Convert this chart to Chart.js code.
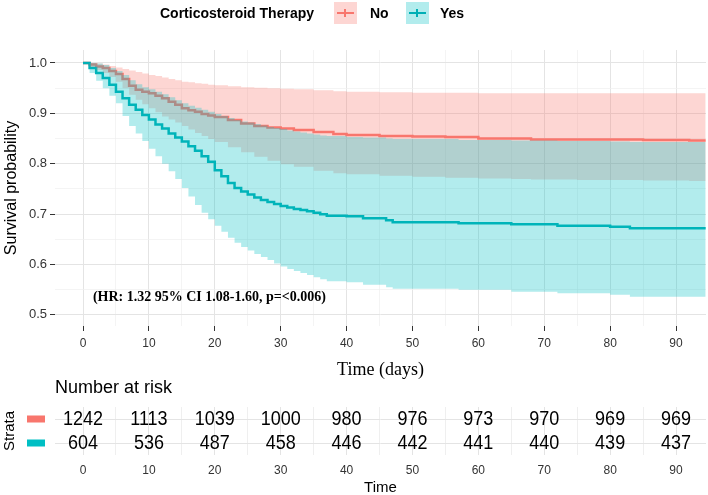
<!DOCTYPE html>
<html>
<head>
<meta charset="utf-8">
<script src="https://cdn.jsdelivr.net/npm/chart.js@4.4.1/dist/chart.umd.min.js"></script>
<style>
  html, body { margin: 0; padding: 0; background: #fff; overflow: hidden; }
  #wrap { position: relative; width: 708px; height: 495px; font-family: 'Liberation Sans', Arial, sans-serif; }
  canvas { position: absolute; left: 0; }
  #mainChart { top: 0; }
  #riskChart { top: 376px; }
  #legend { position: absolute; top: 0; left: 0; width: 708px; height: 28px; font-weight: bold; font-size: 14px; color: #000; }
  #legend span { position: absolute; top: 5px; line-height: 16px; white-space: nowrap; }
  #legend .key { position: absolute; top: 2px; width: 23px; height: 22px; }
  #legend .key i { position: absolute; left: 3px; right: 3px; top: 10px; height: 2px; }
  #legend .key b { position: absolute; left: 10px; top: 7px; width: 2px; height: 8px; }
</style>
</head>
<body>
<div id="wrap">
  <canvas id="mainChart" width="708" height="385"></canvas>
  <canvas id="riskChart" width="708" height="119"></canvas>
  <div id="legend"></div>
</div>
<script>
// ── Data ──────────────────────────────────────────────────────
const strata = ['No', 'Yes'];

// Corticosteroid therapy: No
const noTime  = [0, 1, 2, 3, 4, 5, 6, 7, 8, 9, 10, 11, 12, 13, 14, 15, 16, 17, 18, 19, 20,
                 22, 24, 26, 28, 30, 32, 35, 38, 40, 45, 50, 55, 60, 65, 68, 75, 80, 85, 92, 94.5];
const noSurv  = [1, 0.997, 0.993, 0.99, 0.984, 0.978, 0.968, 0.955, 0.947, 0.943, 0.94, 0.935, 0.93, 0.923,
                 0.917, 0.91, 0.906, 0.903, 0.899, 0.896, 0.893, 0.887, 0.88, 0.875, 0.872, 0.87, 0.867,
                 0.863, 0.859, 0.857, 0.855, 0.854, 0.853, 0.85, 0.85, 0.848, 0.848, 0.848, 0.847, 0.846, 0.846];
const noUpper = [1, 1, 0.999, 0.997, 0.994, 0.991, 0.988, 0.985, 0.982, 0.979, 0.976, 0.974, 0.971, 0.968,
                 0.966, 0.963, 0.962, 0.96, 0.959, 0.957, 0.956, 0.954, 0.952, 0.951, 0.95, 0.949, 0.948,
                 0.946, 0.944, 0.943, 0.942, 0.941, 0.941, 0.94, 0.94, 0.94, 0.94, 0.94, 0.94, 0.94, 0.94];
const noLower = [1, 0.992, 0.986, 0.98, 0.972, 0.963, 0.95, 0.937, 0.927, 0.918, 0.91, 0.902, 0.894, 0.888,
                 0.882, 0.875, 0.868, 0.861, 0.855, 0.849, 0.843, 0.833, 0.823, 0.814, 0.806, 0.799, 0.794,
                 0.786, 0.781, 0.779, 0.776, 0.774, 0.772, 0.771, 0.77, 0.769, 0.768, 0.768, 0.767, 0.766, 0.766];

// Corticosteroid therapy: Yes
const yesTime  = [0, 1, 2, 3, 4, 5, 6, 7, 8, 9, 10, 11, 12, 13, 14, 15, 16, 17, 18, 19, 20, 21, 22, 23, 24,
                  25, 26, 27, 28, 29, 30, 31, 32, 33, 34, 35, 36, 37, 40, 42.5, 46, 47, 57, 65, 72, 80, 83, 94.5];
const yesSurv  = [1, 0.99, 0.98, 0.97, 0.957, 0.943, 0.93, 0.917, 0.907, 0.897, 0.888, 0.878, 0.87, 0.86,
                  0.852, 0.844, 0.835, 0.826, 0.815, 0.804, 0.787, 0.775, 0.762, 0.752, 0.745, 0.739, 0.733,
                  0.728, 0.724, 0.72, 0.716, 0.713, 0.71, 0.708, 0.706, 0.703, 0.7, 0.697, 0.696, 0.692,
                  0.688, 0.684, 0.682, 0.68, 0.677, 0.675, 0.672, 0.672];
const yesUpper = [1, 1, 0.999, 0.996, 0.99, 0.984, 0.976, 0.966, 0.958, 0.952, 0.948, 0.943, 0.938, 0.932,
                  0.926, 0.92, 0.915, 0.911, 0.907, 0.903, 0.899, 0.895, 0.891, 0.887, 0.884, 0.882, 0.879,
                  0.876, 0.873, 0.871, 0.869, 0.866, 0.864, 0.862, 0.86, 0.858, 0.856, 0.855, 0.853, 0.852,
                  0.85, 0.849, 0.847, 0.846, 0.845, 0.844, 0.843, 0.843];
const yesLower = [1, 0.98, 0.965, 0.95, 0.935, 0.92, 0.895, 0.875, 0.86, 0.845, 0.83, 0.815, 0.8, 0.785,
                  0.77, 0.752, 0.735, 0.718, 0.703, 0.69, 0.677, 0.665, 0.653, 0.643, 0.635, 0.628, 0.621,
                  0.615, 0.609, 0.602, 0.596, 0.591, 0.587, 0.583, 0.579, 0.575, 0.571, 0.567, 0.565, 0.56,
                  0.555, 0.552, 0.55, 0.546, 0.543, 0.54, 0.536, 0.536];

// Number at risk table
const riskTimes = [0, 10, 20, 30, 40, 50, 60, 70, 80, 90];
const riskNo    = [1242, 1113, 1039, 1000, 980, 976, 973, 970, 969, 969];
const riskYes   = [604, 536, 487, 458, 446, 442, 441, 440, 439, 437];

// Axis ticks
const xGridValues = [0, 5, 10, 15, 20, 25, 30, 35, 40, 45, 50, 55, 60, 65, 70, 75, 80, 85, 90];
const xTickLabels = [0, 10, 20, 30, 40, 50, 60, 70, 80, 90];
const yGridValues = [0.5, 0.55, 0.6, 0.65, 0.7, 0.75, 0.8, 0.85, 0.9, 0.95, 1.0];
const yTickLabels = [0.5, 0.6, 0.7, 0.8, 0.9, 1.0];

const annotationText = '(HR: 1.32 95% CI 1.08-1.60, p=<0.006)';

// ── Styles ────────────────────────────────────────────────────
const X_MIN = -4.25, X_MAX = 94.55;
const Y_MIN = 0.478, Y_MAX = 1.0258;
const ANNOT_X = 1.5, ANNOT_Y = 0.534;

const lineColors   = ['#F8766D', '#00AFB5'];
const ribbonColors = ['rgba(248,118,109,0.3)', 'rgba(0,191,196,0.3)'];
const keyColors    = ['#F8766D', '#00BFC4'];
const legendLefts  = [{ key: 334, label: 370 }, { key: 406, label: 440 }];

const MAJOR_GRID = '#e4e4e4';
const MINOR_GRID = '#efefef';

Chart.defaults.font.family = "'Liberation Sans', Arial, sans-serif";
Chart.defaults.color = '#333';

const isMajorX = (v) => xTickLabels.includes(v);
const isMajorY = (v) => yTickLabels.some(t => Math.abs(t - v) < 1e-6);

const pts = (xs, ys) => xs.map((x, i) => ({ x, y: ys[i] }));

// ── Legend (HTML) ─────────────────────────────────────────────
const legendEl = document.getElementById('legend');
legendEl.innerHTML = '<span style="left:160px">Corticosteroid Therapy</span>' +
  strata.map((s, i) =>
    `<div class="key" style="left:${legendLefts[i].key}px;background:${ribbonColors[i]}">` +
    `<i style="background:${lineColors[i]}"></i><b style="background:${lineColors[i]}"></b></div>` +
    `<span style="left:${legendLefts[i].label}px">${s}</span>`
  ).join('');

// ── Main survival chart ───────────────────────────────────────
const annotationPlugin = {
  id: 'hrNote',
  afterDraw(chart) {
    const { ctx, scales } = chart;
    ctx.save();
    ctx.font = "bold 14px 'Liberation Serif', 'Times New Roman', serif";
    ctx.fillStyle = '#000';
    ctx.textAlign = 'left';
    ctx.textBaseline = 'middle';
    ctx.fillText(annotationText, scales.x.getPixelForValue(ANNOT_X), scales.y.getPixelForValue(ANNOT_Y));
    ctx.restore();
  },
};

const stepLine = (data, color, order) => ({
  data, order,
  borderColor: color, borderWidth: 2.5,
  stepped: 'before', fill: false, pointRadius: 0,
});
const ribbonEdge = (data, fillColor, order, fill) => ({
  data, order,
  borderWidth: 0, borderColor: 'rgba(0,0,0,0)',
  backgroundColor: fillColor,
  stepped: 'before', fill, pointRadius: 0,
});

new Chart(document.getElementById('mainChart'), {
  type: 'line',
  data: {
    datasets: [
      stepLine(pts(noTime, noSurv), lineColors[0], 6),
      stepLine(pts(yesTime, yesSurv), lineColors[1], 5),
      ribbonEdge(pts(noTime, noUpper), ribbonColors[0], 4, false),
      ribbonEdge(pts(noTime, noLower), ribbonColors[0], 3, '-1'),
      ribbonEdge(pts(yesTime, yesUpper), ribbonColors[1], 2, false),
      ribbonEdge(pts(yesTime, yesLower), ribbonColors[1], 1, '-1'),
    ],
  },
  options: {
    responsive: false,
    animation: false,
    layout: { padding: { top: 50, right: 2, left: 0, bottom: 0 } },
    plugins: { legend: { display: false }, tooltip: { enabled: false } },
    scales: {
      x: {
        type: 'linear', min: X_MIN, max: X_MAX,
        afterBuildTicks: (axis) => { axis.ticks = xGridValues.map(v => ({ value: v })); },
        afterFit: (axis) => { axis.height = 59; },
        border: { display: false },
        grid: {
          color: (c) => isMajorX(c.tick.value) ? MAJOR_GRID : MINOR_GRID,
          lineWidth: (c) => isMajorX(c.tick.value) ? 1 : 0.7,
          tickLength: 5,
          tickWidth: 1,
          tickColor: (c) => isMajorX(c.tick.value) ? '#333' : 'rgba(0,0,0,0)',
        },
        ticks: {
          autoSkip: false, maxRotation: 0, padding: 5,
          font: { size: 12 }, color: '#333',
          callback: (v) => isMajorX(v) ? String(v) : '',
        },
        title: {
          display: true, text: 'Time (days)', color: '#000',
          font: { family: "'Liberation Serif', 'Times New Roman', serif", size: 18, lineHeight: 1 },
          padding: { top: 0, bottom: 6 },
        },
      },
      y: {
        type: 'linear', min: Y_MIN, max: Y_MAX,
        afterBuildTicks: (axis) => { axis.ticks = yGridValues.map(v => ({ value: v })); },
        afterFit: (axis) => { axis.width = 55; },
        border: { display: false },
        grid: {
          color: (c) => isMajorY(c.tick.value) ? MAJOR_GRID : MINOR_GRID,
          lineWidth: (c) => isMajorY(c.tick.value) ? 1 : 0.7,
          tickLength: 5,
          tickWidth: 1,
          tickColor: (c) => isMajorY(c.tick.value) ? '#333' : 'rgba(0,0,0,0)',
        },
        ticks: {
          autoSkip: false, padding: 3,
          font: { size: 13 }, color: '#333',
          callback: (v) => isMajorY(v) ? v.toFixed(1) : '',
        },
        title: {
          display: true, text: 'Survival probability', color: '#000',
          font: { size: 16 },
          padding: { top: 2, bottom: 0 },
        },
      },
    },
  },
  plugins: [annotationPlugin],
});

// ── Number at risk table ──────────────────────────────────────
const riskCounts = [riskNo, riskYes];

const riskTablePlugin = {
  id: 'riskTable',
  afterDraw(chart) {
    const { ctx, chartArea, scales } = chart;
    ctx.save();
    // heading
    ctx.font = "18px 'Liberation Sans', Arial, sans-serif";
    ctx.fillStyle = '#000';
    ctx.textAlign = 'left';
    ctx.textBaseline = 'middle';
    ctx.fillText('Number at risk', chartArea.left, 12);
    // counts (slightly tall, like the source) + colour keys
    riskCounts.forEach((counts, k) => {
      const meta = chart.getDatasetMeta(k);
      ctx.textAlign = 'center';
      meta.data.forEach((el, i) => {
        ctx.save();
        ctx.translate(el.x, el.y);
        ctx.scale(1, 1.15);
        ctx.fillText(String(counts[i]), 0, 0);
        ctx.restore();
      });
      const yPx = scales.y.getPixelForValue(k);
      ctx.fillStyle = keyColors[k];
      ctx.fillRect(27, yPx - 3.5, 18, 7);
      ctx.fillStyle = '#000';
    });
    ctx.restore();
  },
};

new Chart(document.getElementById('riskChart'), {
  type: 'scatter',
  data: {
    datasets: strata.map((s) => ({
      data: riskTimes.map(t => ({ x: t, y: s })),
      pointRadius: 0,
    })),
  },
  options: {
    responsive: false,
    animation: false,
    layout: { padding: { top: 31, right: 2, left: 0, bottom: 0 } },
    plugins: { legend: { display: false }, tooltip: { enabled: false } },
    scales: {
      x: {
        type: 'linear', min: X_MIN, max: X_MAX,
        afterBuildTicks: (axis) => { axis.ticks = xGridValues.map(v => ({ value: v })); },
        afterFit: (axis) => { axis.height = 40; },
        border: { display: false },
        grid: {
          color: (c) => isMajorX(c.tick.value) ? MAJOR_GRID : MINOR_GRID,
          lineWidth: 1,
          drawTicks: false,
        },
        ticks: {
          autoSkip: false, maxRotation: 0, padding: 8,
          font: { size: 12 }, color: '#333',
          callback: (v) => isMajorX(v) ? String(v) : '',
        },
        title: {
          display: true, text: 'Time', color: '#000',
          font: { size: 15, lineHeight: 1 },
          padding: { top: 0, bottom: 0 },
        },
      },
      y: {
        type: 'category', labels: strata, offset: true,
        afterFit: (axis) => { axis.width = 55; },
        border: { display: false },
        grid: { color: MAJOR_GRID, lineWidth: 1, drawTicks: false },
        ticks: { display: false },
        title: {
          display: true, text: 'Strata', color: '#000',
          font: { size: 15 },
          padding: { top: 1, bottom: 0 },
        },
      },
    },
  },
  plugins: [riskTablePlugin],
});
</script>
</body>
</html>
